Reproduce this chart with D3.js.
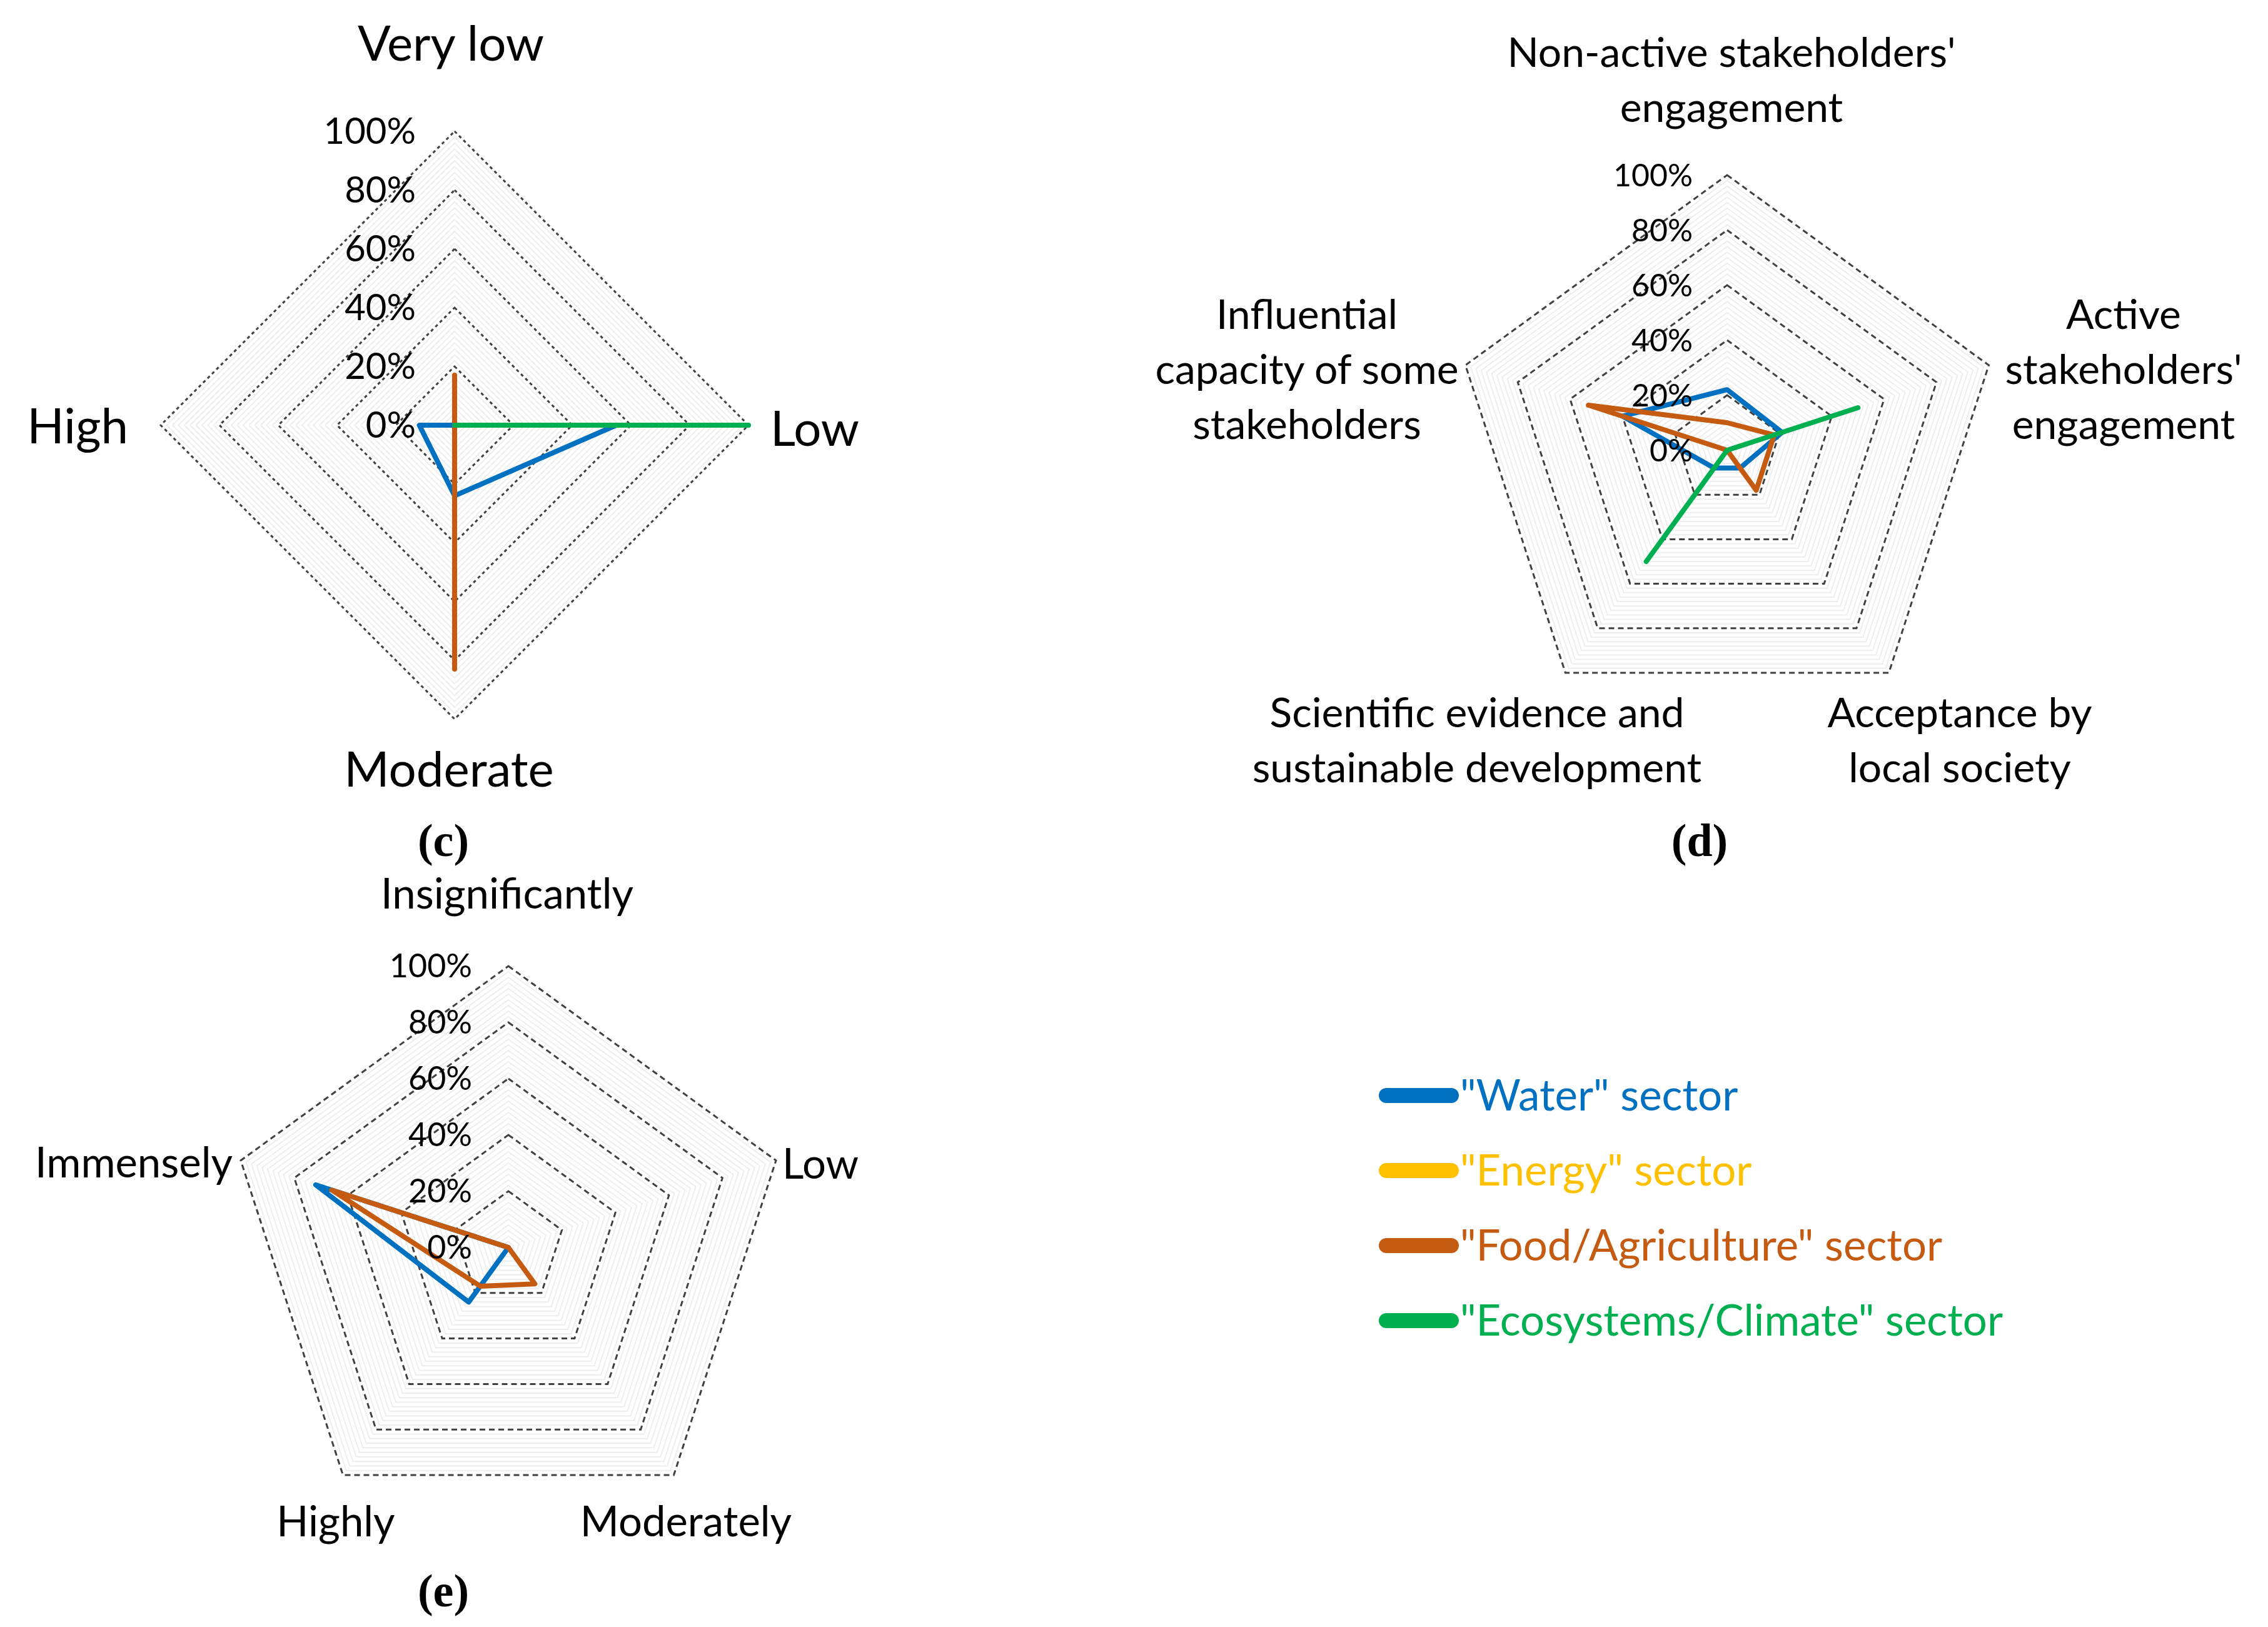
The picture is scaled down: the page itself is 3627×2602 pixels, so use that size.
<!DOCTYPE html>
<html>
<head>
<meta charset="utf-8">
<script src="https://cdn.jsdelivr.net/npm/d3@7"></script>
<style>
  body { margin: 0; background: #fff; }
  svg { display: block; }
  text { font-family: Lato, "Open Sans", sans-serif; fill: #000; }
  .panel { font-family: "Liberation Serif", "DejaVu Serif", serif; font-weight: bold; }
</style>
</head>
<body>
<svg id="canvas" width="3627" height="2602"></svg>
<script>
// series (same order in every panel)
const sectors = ['"Water" sector', '"Energy" sector', '"Food/Agriculture" sector', '"Ecosystems/Climate" sector'];
const sectorColors = ["#0070C0", "#FFC000", "#C55A11", "#00B050"];

const ticks = [0, 20, 40, 60, 80, 100];
const tickLabels = ["0%", "20%", "40%", "60%", "80%", "100%"];

// (c)
const axesC = ["Very low", "Low", "Moderate", "High"];
const waterC = [0, 55, 24, 12];
const energyC = null;
const foodC = [17, 0, 83, 0];
const ecoC = [0, 100, 0, 0];

// (d)
const axesD = [
  ["Non-active stakeholders'", "engagement"],
  ["Active", "stakeholders'", "engagement"],
  ["Acceptance by", "local society"],
  ["Scientific evidence and", "sustainable development"],
  ["Influential", "capacity of some", "stakeholders"]
];
const waterD = [22, 21, 8, 8, 40];
const energyD = null;
const foodD = [10, 18, 18, 0, 53];
const ecoD = [0, 50, 0, 50, 0];

// (e)
const axesE = ["Insignificantly", "Low", "Moderately", "Highly", "Immensely"];
const waterE = [0, 0, 0, 24, 72];
const energyE = null;
const foodE = [0, 0, 16, 17, 66];
const ecoE = null;

const svg = d3.select("#canvas");

function drawRadar(opt) {
    const g = svg.append("g").attr("transform", `translate(${opt.cx},${opt.cy})`);
    const n = opt.axes.length;
    const r = d3.scaleLinear().domain([0, 100]).range([0, opt.R]);
    const ang = i => i * 2 * Math.PI / n;
    const ring = d3.lineRadial().angle((d, i) => ang(i)).radius(d => r(d)).curve(d3.curveLinearClosed);

    // fine gridlines every 2%
    g.append("g").selectAll("path")
        .data(d3.range(2, 101, 2).filter(v => v % 20 !== 0))
        .join("path")
        .attr("d", v => ring(d3.range(n).map(() => v)))
        .attr("fill", "none")
        .attr("stroke", "#eeeeee")
        .attr("stroke-width", 2);

    // dashed major rings
    g.append("g").selectAll("path")
        .data(ticks.filter(v => v > 0))
        .join("path")
        .attr("d", v => ring(d3.range(n).map(() => v)))
        .attr("fill", "none")
        .attr("stroke", "#404040")
        .attr("stroke-width", 3)
        .attr("stroke-dasharray", opt.dash);

    // series
    opt.series.forEach((vals, k) => {
        if (!vals) return;
        g.append("path")
            .attr("d", ring(vals))
            .attr("fill", "none")
            .attr("stroke", sectorColors[k])
            .attr("stroke-width", 8)
            .attr("stroke-linejoin", "round");
    });

    // tick labels along the top axis
    g.append("g").selectAll("text")
        .data(ticks)
        .join("text")
        .attr("x", -opt.tickGap)
        .attr("y", v => -r(v))
        .attr("dy", "0.35em")
        .attr("text-anchor", "end")
        .style("font-size", opt.tickSize + "px")
        .text((v, i) => tickLabels[i]);

    // category labels
    opt.labels.forEach((lab, i) => {
        const lines = Array.isArray(lab.text) ? lab.text : [lab.text];
        const t = svg.append("text")
            .attr("text-anchor", lab.anchor)
            .style("font-size", opt.labelSize + "px");
        lines.forEach((s, j) => {
            t.append("tspan")
                .attr("x", lab.x)
                .attr("y", lab.y + j * opt.lineH)
                .attr("dy", "0.35em")
                .text(s);
        });
    });

    svg.append("text")
        .attr("class", "panel")
        .attr("x", opt.panel[0]).attr("y", opt.panel[1])
        .attr("dy", "0.35em")
        .attr("text-anchor", "middle")
        .style("font-size", "74px")
        .text(opt.panelText);
}

drawRadar({
    cx: 727, cy: 680, R: 470, axes: axesC, dash: "5,5",
    series: [waterC, energyC, foodC, ecoC],
    tickGap: 62, tickSize: 58, labelSize: 78, lineH: 0,
    labels: [
        { text: axesC[0], x: 721, y: 70, anchor: "middle" },
        { text: axesC[1], x: 1232, y: 686, anchor: "start" },
        { text: axesC[2], x: 718, y: 1231, anchor: "middle" },
        { text: axesC[3], x: 205, y: 682, anchor: "end" }
    ],
    panel: [709, 1343], panelText: "(c)"
});

drawRadar({
    cx: 2762, cy: 720, R: 440, axes: axesD, dash: "9,6",
    series: [waterD, energyD, foodD, ecoD],
    tickGap: 55, tickSize: 50, labelSize: 66, lineH: 88,
    labels: [
        { text: axesD[0], x: 2769, y: 84, anchor: "middle" },
        { text: axesD[1], x: 3396, y: 503, anchor: "middle" },
        { text: axesD[2], x: 3134, y: 1140, anchor: "middle" },
        { text: axesD[3], x: 2362, y: 1140, anchor: "middle" },
        { text: axesD[4], x: 2090, y: 503, anchor: "middle" }
    ],
    panel: [2718, 1343], panelText: "(d)"
});

drawRadar({
    cx: 813, cy: 1995, R: 450, axes: axesE, dash: "9,6",
    series: [waterE, energyE, foodE, ecoE],
    tickGap: 58, tickSize: 52, labelSize: 67, lineH: 0,
    labels: [
        { text: axesE[0], x: 811, y: 1430, anchor: "middle" },
        { text: axesE[1], x: 1251, y: 1862, anchor: "start" },
        { text: axesE[2], x: 1097, y: 2434, anchor: "middle" },
        { text: axesE[3], x: 537, y: 2434, anchor: "middle" },
        { text: axesE[4], x: 372, y: 1860, anchor: "end" }
    ],
    panel: [709, 2543], panelText: "(e)"
});

// legend
const legend = svg.append("g").selectAll("g")
    .data(sectors)
    .join("g")
    .attr("transform", (d, i) => `translate(2217,${1752 + i * 120})`);

legend.append("line")
    .attr("x1", 0).attr("x2", 104)
    .attr("stroke", (d, i) => sectorColors[i])
    .attr("stroke-width", 24)
    .attr("stroke-linecap", "round");

legend.append("text")
    .attr("x", 118)
    .attr("dy", "0.35em")
    .style("font-size", "69px")
    .style("fill", (d, i) => sectorColors[i])
    .text(d => d);
</script>
</body>
</html>
